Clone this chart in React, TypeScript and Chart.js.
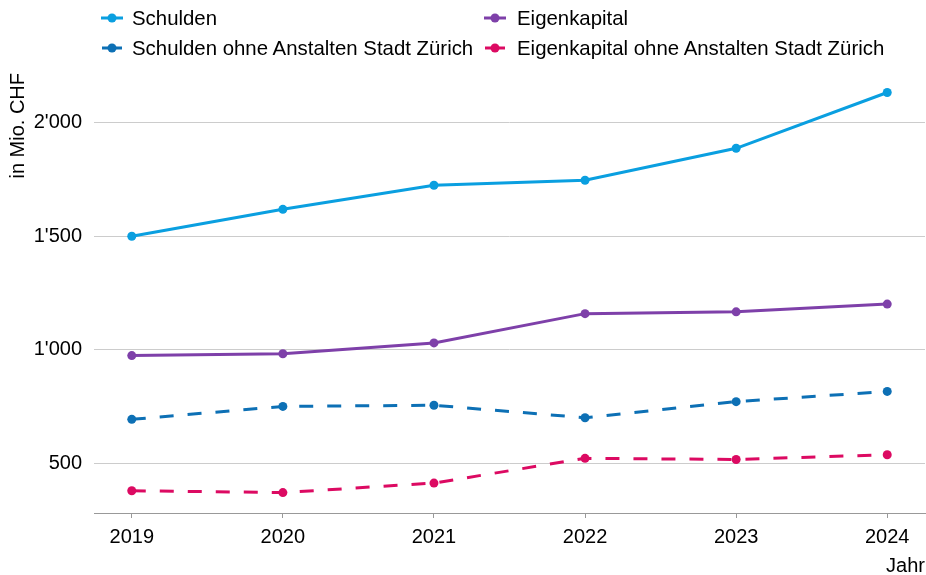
import React, { useEffect, useRef } from "react";
import { Chart, registerables } from "chart.js";

Chart.register(...registerables);

const years = [2019, 2020, 2021, 2022, 2023, 2024];
const schulden = [1500, 1619, 1725, 1747, 1888, 2134];
const eigenkapital = [974, 982, 1030, 1159, 1167, 1201];
const schuldenOhne = [693, 750, 755, 700, 771, 816];
const eigenkapitalOhne = [378, 370, 412, 521, 516, 537];
const yTicks = [500, 1000, 1500, 2000];

const seriesNames = [
  "Schulden",
  "Eigenkapital",
  "Schulden ohne Anstalten Stadt Zürich",
  "Eigenkapital ohne Anstalten Stadt Zürich",
];
const seriesColors = ["#0a9fe0", "#7e40a9", "#0d70b5", "#dc0a62"];
const seriesDashed = [false, false, true, true];
const seriesValues = [schulden, eigenkapital, schuldenOhne, eigenkapitalOhne];

const FONT = "'Liberation Sans', Arial, Helvetica, sans-serif";

function fmt(v: number): string {
  const s = String(Math.round(v));
  return s.replace(/\B(?=(\d{3})+(?!\d))/g, "'");
}

function LegendMarker({ color, dashed }: { color: string; dashed: boolean }) {
  return (
    <svg width={22} height={12} style={{ display: "block" }}>
      {dashed ? (
        <>
          <line x1={1} y1={6} x2={7} y2={6} stroke={color} strokeWidth={3} />
          <line x1={15} y1={6} x2={21} y2={6} stroke={color} strokeWidth={3} />
        </>
      ) : (
        <line x1={0} y1={6} x2={22} y2={6} stroke={color} strokeWidth={3} />
      )}
      <circle cx={11} cy={6} r={4.5} fill={color} />
    </svg>
  );
}

export default function App() {
  const canvasRef = useRef<HTMLCanvasElement | null>(null);

  useEffect(() => {
    document.body.style.margin = "0";
    const ctx = canvasRef.current!.getContext("2d")!;
    const chart = new Chart(ctx, {
      type: "line",
      data: {
        labels: years,
        datasets: seriesValues.map((vals, i) => ({
          label: seriesNames[i],
          data: vals,
          borderColor: seriesColors[i],
          backgroundColor: seriesColors[i],
          borderWidth: 3,
          borderDash: seriesDashed[i] ? [14, 14] : [],
          pointRadius: 4.5,
          pointBorderWidth: 0,
          pointBackgroundColor: seriesColors[i],
          tension: 0,
          fill: false,
        })),
      },
      options: {
        animation: false,
        responsive: false,
        maintainAspectRatio: false,
        layout: { autoPadding: false, padding: { top: 73, right: 1, left: 0, bottom: 0 } },
        plugins: {
          legend: { display: false },
          tooltip: { enabled: false },
        },
        scales: {
          x: {
            type: "linear",
            min: 2018.75,
            max: 2024.25,
            afterBuildTicks: (scale: any) => {
              scale.ticks = years.map((v) => ({ value: v }));
            },
            afterFit: (scale: any) => {
              scale.height = 62;
              scale.paddingLeft = 0;
              scale.paddingRight = 0;
            },
            grid: {
              display: true,
              drawOnChartArea: false,
              drawTicks: true,
              tickLength: 5,
              color: "#999999",
            },
            border: { display: true, color: "#999999", width: 1 },
            ticks: {
              autoSkip: false,
              maxRotation: 0,
              padding: 7,
              color: "#000000",
              font: { family: FONT, size: 20 },
              callback: (v: any) => String(v),
            },
            title: {
              display: true,
              text: "Jahr",
              align: "end",
              color: "#000000",
              font: { family: FONT, size: 20 },
              padding: { top: 0, bottom: -3 },
            },
          },
          y: {
            type: "linear",
            min: 280,
            max: 2220,
            afterBuildTicks: (scale: any) => {
              scale.ticks = yTicks.map((v) => ({ value: v }));
            },
            afterFit: (scale: any) => {
              scale.width = 94;
              scale.paddingTop = 0;
              scale.paddingBottom = 0;
            },
            grid: {
              color: "#cccccc",
              drawTicks: false,
              lineWidth: 1,
            },
            border: { display: false },
            ticks: {
              padding: 12,
              color: "#000000",
              font: { family: FONT, size: 20 },
              callback: (v: any) => fmt(Number(v)),
            },
            title: {
              display: true,
              text: "in Mio. CHF",
              align: "end",
              color: "#000000",
              font: { family: FONT, size: 20 },
              padding: { top: 6, bottom: 0 },
            },
          },
        },
      } as any,
    });
    return () => chart.destroy();
  }, []);

  return (
    <div style={{ position: "relative", width: 926, height: 575, fontFamily: FONT }}>
      <canvas ref={canvasRef} width={926} height={575} style={{ display: "block" }} />
      <div
        style={{
          position: "absolute",
          left: 101,
          top: 3,
          display: "grid",
          gridTemplateColumns: "383px auto",
          rowGap: 0,
          fontSize: 20.4,
          lineHeight: "30px",
          color: "#000",
        }}
      >
        {seriesNames.map((name, i) => (
          <div key={name} style={{ display: "flex", alignItems: "center", height: 30, whiteSpace: "nowrap" }}>
            <LegendMarker color={seriesColors[i]} dashed={seriesDashed[i]} />
            <span style={{ marginLeft: i % 2 === 0 ? 9 : 11 }}>{name}</span>
          </div>
        ))}
      </div>
    </div>
  );
}
